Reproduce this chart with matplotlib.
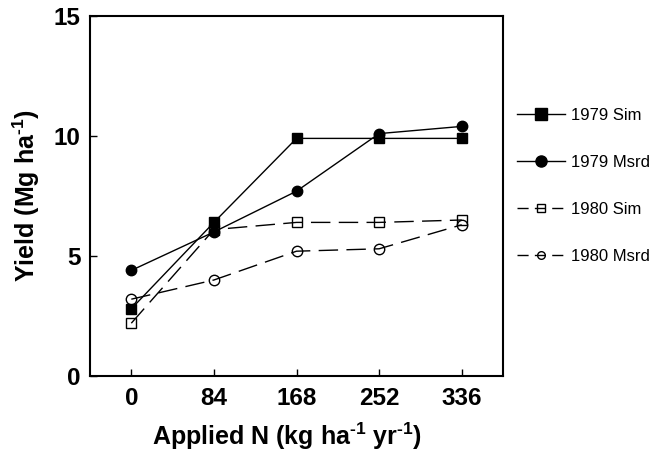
import matplotlib.pyplot as plt

plt.rcParams['font.family'] = ['Liberation Sans', 'DejaVu Sans']
plt.rcParams['mathtext.fontset'] = 'custom'
plt.rcParams['mathtext.rm'] = 'Liberation Sans:bold'
plt.rcParams['mathtext.default'] = 'rm'

# --- data ---
n_rate = [0, 84, 168, 252, 336]
sim_1979 = [2.8, 6.4, 9.9, 9.9, 9.9]
msrd_1979 = [4.4, 6.0, 7.7, 10.1, 10.4]
sim_1980 = [2.2, 6.1, 6.4, 6.4, 6.5]
msrd_1980 = [3.2, 4.0, 5.2, 5.3, 6.3]
series_labels = ['1979 Sim', '1979 Msrd', '1980 Sim', '1980 Msrd']
y_ticks = [0, 5, 10, 15]

fig = plt.figure(figsize=(6.62, 4.51), dpi=100)
ax = fig.add_axes([90 / 662, 1 - 376 / 451, 413 / 662, 360 / 451])

dash = (0, (14, 6))
ms = 7.5
ax.plot(n_rate, sim_1979, color='black', lw=1, marker='s', ms=ms,
        mfc='black', label=series_labels[0])
ax.plot(n_rate, msrd_1979, color='black', lw=1, marker='o', ms=ms,
        mfc='black', label=series_labels[1])
ax.plot(n_rate, sim_1980, color='black', lw=1, ls=dash, marker='s', ms=ms,
        mfc='none', mew=1, label=series_labels[2])
ax.plot(n_rate, msrd_1980, color='black', lw=1, ls=dash, marker='o', ms=ms,
        mfc='none', mew=1, label=series_labels[3])

ax.set_xlim(-42, 378)
ax.set_ylim(0, 15)
ax.set_xticks(n_rate)
ax.set_yticks(y_ticks)
ax.tick_params(direction='in', length=5, width=1, labelsize=17.5)
ax.tick_params(axis='x', pad=8)
ax.tick_params(axis='y', pad=7)
for lab in ax.get_xticklabels() + ax.get_yticklabels():
    lab.set_fontweight('bold')
for sp in ax.spines.values():
    sp.set_linewidth(1.5)

sup = r'$^{\text{-}1}$'
ax.set_xlabel('Applied N (kg ha' + sup + ' yr' + sup + ')', fontsize=18,
              fontweight='bold')
ax.xaxis.set_label_coords(0.476, -0.125)
ax.set_ylabel('Yield (Mg ha' + sup + ')', fontsize=18, fontweight='bold',
              labelpad=8)

leg = fig.legend(loc='upper left', bbox_to_anchor=(510 / 662, 1 - 101.5 / 451),
                 frameon=False, fontsize=12, handlelength=2.9,
                 handletextpad=0.35, labelspacing=1.92, borderaxespad=0)
for i, (h, s) in enumerate(zip(leg.legend_handles, [8.5, 8, 5.5, 5.5])):
    h.set_markersize(s)
    if i >= 2:
        h.set_linestyle((0, (8, 4.5)))

fig.savefig('out.png', dpi=100)
